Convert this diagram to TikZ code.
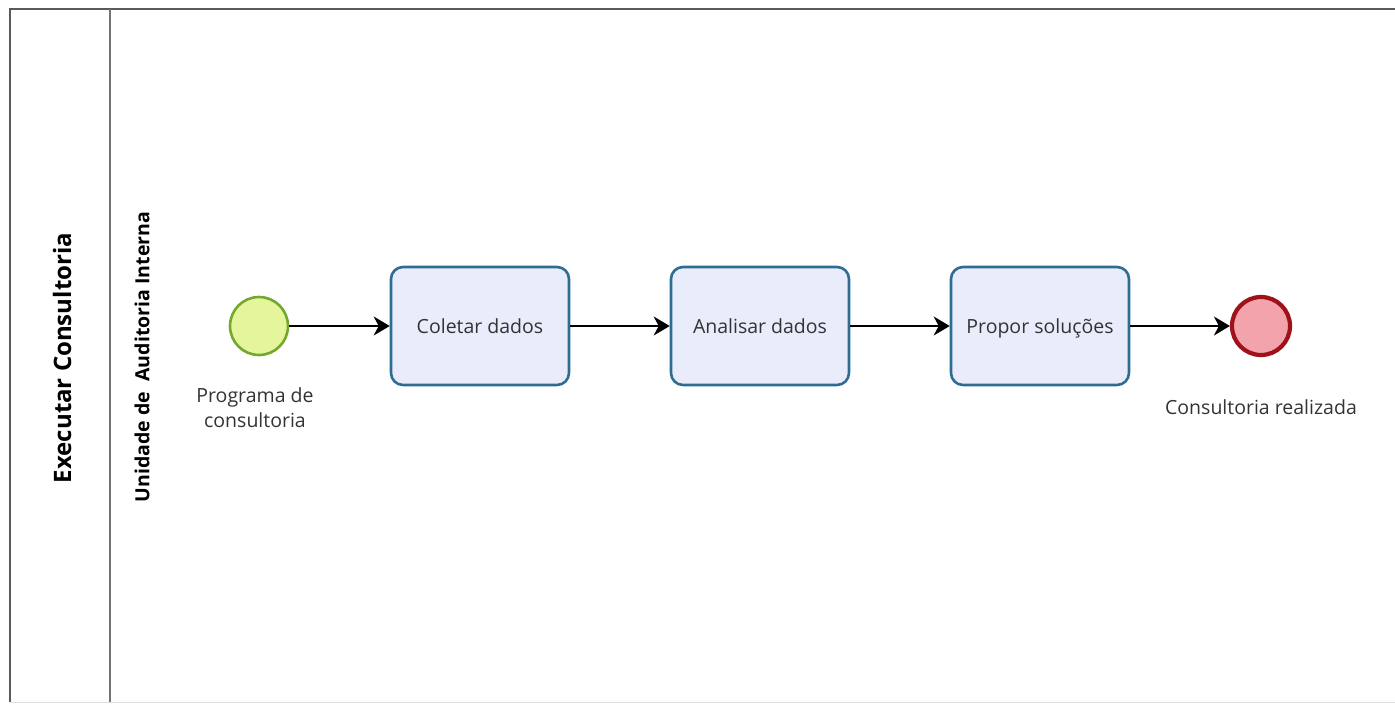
\documentclass[tikz,border=0pt]{standalone}
\usepackage{fontspec}
\setmainfont{Open Sans}
\usetikzlibrary{arrows.meta}
\definecolor{poolline}{HTML}{5A5A5A}
\definecolor{taskfill}{HTML}{E9EDFB}
\definecolor{taskline}{HTML}{2F6C93}
\definecolor{startfill}{HTML}{E4F59C}
\definecolor{startline}{HTML}{74A82C}
\definecolor{endfill}{HTML}{F2A3AB}
\definecolor{endline}{HTML}{A0121A}
\definecolor{txt}{HTML}{333333}
\tikzset{
  taskbox/.style={draw=taskline, fill=taskfill, line width=2.6pt, rounded corners=12pt,
    minimum width=178pt, minimum height=118pt, inner sep=0pt, text=txt,
    text height=17pt, text depth=2pt,
    font=\fontsize{19.5}{23}\selectfont},
  startev/.style={circle, draw=startline, fill=startfill, line width=2.6pt, minimum size=58pt, inner sep=0pt},
  endev/.style={circle, draw=endline, fill=endfill, line width=4.2pt, minimum size=58pt, inner sep=0pt},
  evlabel/.style={text=txt, align=center, font=\fontsize{19.5}{25}\selectfont},
  flow/.style={black, line width=1.8pt, -{Stealth[length=16pt, width=19pt, inset=5pt]}},
  poolborder/.style={draw=poolline, line width=1.8pt},
}
\begin{document}
\begin{tikzpicture}[x=1pt, y=-1pt]
\useasboundingbox (0,0) rectangle (1395,704);
% pool frame and lane divider
\begin{scope}
\clip (0,0) rectangle (1395,704);
\draw[draw=gray!25, line width=1.6pt] (10,702.5) -- (1395,702.5);
\draw[poolborder] (10,702) -- (10,9) -- (1400,9);
\draw[poolborder, line width=1.4pt, draw=poolline!85] (110,9) -- (110,702);
\end{scope}
% pool and lane titles
\node[rotate=90, font=\bfseries\fontsize{24}{28}\selectfont, text=black] (pool) at (62,358) {Executar Consultoria};
\node[rotate=90, font=\bfseries\fontsize{19.5}{23}\selectfont, text=black] (lane) at (142,357) {Unidade de\ \ Auditoria Interna};
% events and tasks
\node[startev] (start) at (259,326) {};
\node[taskbox] (t1) at (480,326) {Coletar dados};
\node[taskbox] (t2) at (760,326) {Analisar dados};
\node[taskbox] (t3) at (1040,326) {Propor soluções};
\node[endev] (end) at (1261,326) {};
\node[evlabel] (startlbl) at (255,408) {Programa de\\consultoria};
\node[evlabel] (endlbl) at (1261,407) {Consultoria realizada};
% sequence flows
\draw[flow] (start) -- (t1);
\draw[flow] (t1) -- (t2);
\draw[flow] (t2) -- (t3);
\draw[flow] (t3) -- (end);
\end{tikzpicture}
\end{document}
